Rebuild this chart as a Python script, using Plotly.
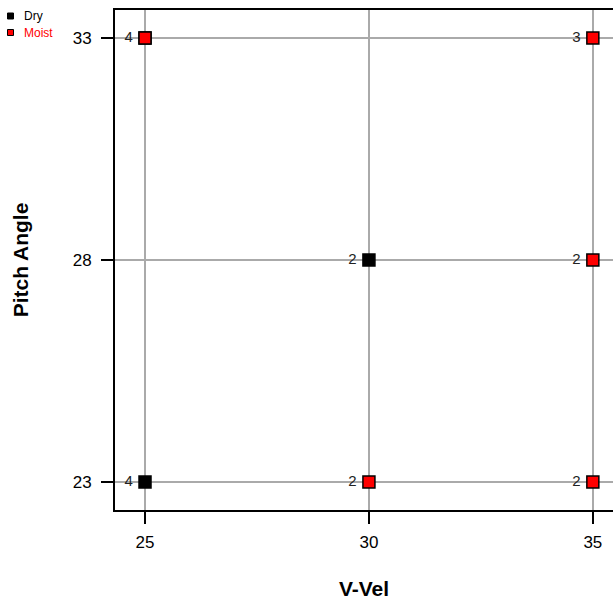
import plotly.graph_objects as go

dry_x = [25, 30, 25]
dry_y = [33, 28, 23]
moist_x = [25, 35, 35, 30, 35]
moist_y = [33, 33, 28, 23, 23]
label_x = [25, 35, 30, 35, 25, 30, 35]
label_y = [33, 33, 28, 28, 23, 23, 23]
label_text = ["4", "3", "2", "2", "4", "2", "2"]
x_ticks = [25, 30, 35]
y_ticks = [23, 28, 33]
legend_names = ["Dry", "Moist"]
legend_colors = ["black", "red"]

FONT = "Liberation Sans, Arial, sans-serif"

fig = go.Figure()
fig.add_trace(go.Scatter(x=dry_x, y=dry_y, mode="markers", name="Dry", showlegend=False,
                         marker=dict(symbol="square", size=12, color="black",
                                     line=dict(color="black", width=1.5))))
fig.add_trace(go.Scatter(x=moist_x, y=moist_y, mode="markers", name="Moist", showlegend=False,
                         marker=dict(symbol="square", size=12, color="red",
                                     line=dict(color="black", width=1.5))))
fig.add_trace(go.Scatter(x=label_x, y=label_y, mode="markers+text", text=label_text,
                         textposition="middle left", showlegend=False,
                         marker=dict(size=18, opacity=0),
                         textfont=dict(family=FONT, size=15, color="#222")))

W, H = 613, 600
L, T, B = 115, 10, 90
pw, ph = W - L, H - T - B


def px_x(p):
    return (p - L) / pw


def px_y(p):
    return 1 - (p - T) / ph


# manual legend (top-left corner)
for i, (nm, col) in enumerate(zip(legend_names, legend_colors)):
    cy = 16 + 16.5 * i
    fig.add_shape(type="rect", xref="paper", yref="paper",
                  x0=px_x(7.5), x1=px_x(13.5), y0=px_y(cy - 3), y1=px_y(cy + 3),
                  fillcolor=col, line=dict(color="black", width=1))
    fig.add_annotation(xref="paper", yref="paper", x=px_x(22), y=px_y(cy),
                       xanchor="left", yanchor="middle", showarrow=False, text=nm,
                       font=dict(family=FONT, size=12, color=col))

fig.update_layout(
    width=W, height=H,
    margin=dict(l=L, r=0, t=T, b=B, autoexpand=False),
    plot_bgcolor="white", paper_bgcolor="white",
    font=dict(family=FONT, color="black"),
    showlegend=False,
)
fig.update_xaxes(range=[24.33, 35.45], tickvals=x_ticks, ticks="outside", ticklen=12,
                 tickwidth=2, tickcolor="black", showline=True, linecolor="black",
                 linewidth=2, mirror=True, showgrid=True, gridcolor="#aaaaaa",
                 gridwidth=1.5, zeroline=False, layer="above traces",
                 ticklabelstandoff=4,
                 tickfont=dict(family=FONT, size=17),
                 title=dict(text="<b>V-Vel</b>", font=dict(family=FONT, size=21), standoff=31))
fig.update_yaxes(range=[22.37, 33.63], tickvals=y_ticks, ticks="outside", ticklen=12,
                 tickwidth=2, tickcolor="black", showline=True, linecolor="black",
                 linewidth=2, mirror=False, showgrid=True, gridcolor="#aaaaaa",
                 gridwidth=1.5, zeroline=False, layer="above traces",
                 ticklabelstandoff=6,
                 tickfont=dict(family=FONT, size=17),
                 title=dict(text="<b>Pitch Angle</b>", font=dict(family=FONT, size=21), standoff=38))

fig.write_html("out.html",
               config={"displayModeBar": False},
               post_script="document.body.style.margin='0';"
                           "document.documentElement.style.overflow='hidden';"
                           "document.body.style.overflow='hidden';")
